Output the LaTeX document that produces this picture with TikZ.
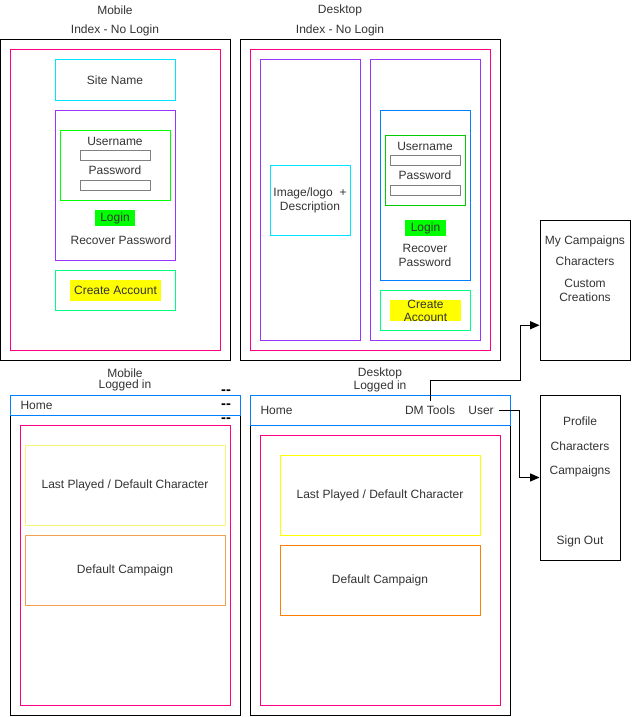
\documentclass[tikz,border=0pt]{standalone}
\usepackage{fontspec}
\setmainfont{Liberation Sans}
\usepackage{tikz}
\usetikzlibrary{fit, calc, arrows.meta}
\definecolor{txt}{HTML}{333333}
\definecolor{pinkline}{HTML}{FF0080}
\definecolor{cyanline}{HTML}{00E5FF}
\definecolor{purpleline}{HTML}{9933FF}
\definecolor{greenline}{HTML}{00FF00}
\definecolor{springline}{HTML}{00FF80}
\definecolor{blueline}{HTML}{007FFF}
\definecolor{yellowline}{HTML}{FFFF00}
\definecolor{paleyellow}{HTML}{F5F57A}
\definecolor{orangeline}{HTML}{FF8000}
\definecolor{paleorange}{HTML}{F0A050}
\definecolor{fieldgray}{HTML}{808080}

\begin{document}
\begin{tikzpicture}[x=0.75pt,y=-0.75pt,line width=0.75pt,
    font=\fontsize{9}{10.5}\selectfont,
    every node/.style={text=txt},
    every label/.style={text=txt, align=center},
    frame/.style={draw=#1, inner sep=0pt},
    field/.style={draw=fieldgray, inner sep=0pt},
    pad/.style={fill=#1, inner sep=0pt},
    marker/.style={text=black, font=\fontsize{11}{11}\bfseries, inner sep=0pt},
    twoline/.style={align=center, font=\fontsize{9}{8.25}\selectfont, inner sep=1pt},
    conn/.style={draw=black, -{Triangle[length=7pt,width=6pt]}}]
\useasboundingbox (0,0) rectangle (637,717);

\node (mlab) at (115,10) {Mobile};
\node (midx) at (115,30) {Index - No Login};
\node [frame=black, fit={(0,40) (230,360)}] (mpage) {};
\node [frame=pinkline, fit={(10,50) (220,350)}] (mbody) {};
\node [frame=cyanline, fit={(55,60) (175,100)}, label=center:Site Name] (mname) {};
\node [frame=purpleline, fit={(55,110) (175,260)}] (mlogin) {};
\node [frame=greenline, fit={(60,130) (170,200)}] (mform) {};
\node (muser) at (115,141) {Username};
\node [field, fit={(80,150) (150,160)}] (muserin) {};
\node (mpass) at (115,170) {Password};
\node [field, fit={(80,180) (150,190)}] (mpassin) {};
\node [pad=greenline, fit={(95,210) (135,226)}, label=center:Login] (mgo) {};
\node (mrec) at (121,240) {Recover Password};
\node [frame=springline, fit={(55,270) (175,310)}] (mnew) {};
\node [pad=yellowline, fit={(70,280) (161,301)}, label=center:Create Account] (mnewbtn) {};

\node (dlab) at (340,10) {Desktop};
\node (didx) at (340,30) {Index - No Login};
\node [frame=black, fit={(240,40) (500,360)}] (dpage) {};
\node [frame=pinkline, fit={(250,50) (490,350)}] (dbody) {};
\node [frame=purpleline, fit={(260,60) (360,340)}] (dleft) {};
\node [frame=purpleline, fit={(370,60) (480,340)}] (dright) {};
\node [frame=cyanline, fit={(270,165) (350,235)}, label={center:{Image/logo~ +\\Description}}] (dlogo) {};
\node [frame=blueline, fit={(380,110) (470,280)}] (dlogin) {};
\node [frame=greenline!80!black, fit={(385,135) (465,205)}] (dform) {};
\node (duser) at (425,146) {Username};
\node [field, fit={(390,155) (460,165)}] (duserin) {};
\node (dpass) at (425,175) {Password};
\node [field, fit={(390,185) (460,195)}] (dpassin) {};
\node [pad=greenline, fit={(405,220) (446,236)}, label=center:Login] (dgo) {};
\node [align=center] (drec) at (425,255) {Recover\\Password};
\node [frame=springline, fit={(380,290) (470,330)}] (dnew) {};
\node [pad=yellowline, fit={(390,300) (461,321)}, label={[font=\fontsize{9}{9.75}\selectfont]center:{Create\\Account}}] (dnewbtn) {};

\node [frame=black, fit={(540,220) (630,360)}] (tools) {};
\node (tcamp) at (585,241) {My Campaigns};
\node (tchar) at (585,261) {Characters};
\node [align=center] (tcust) at (585,290) {Custom\\Creations};

\node [frame=black, fit={(540,395) (620,560)}] (umenu) {};
\node (uprof) at (580,421) {Profile};
\node (uchar) at (580,446) {Characters};
\node (ucamp) at (580,471) {Campaigns};
\node (uout) at (580,541) {Sign Out};

\node [twoline] (llab) at (125,380) {Mobile\\Logged in};
\node [frame=black, fit={(10,395) (240,715)}] (lpage) {};
\node [frame=blueline, fit={(10,395) (240,415)}] (lbar) {};
\node [anchor=west, inner sep=0pt] (lhome) at (20,405) {Home};
\node [marker] (ldash1) at (226,392) {-{}-};
\node [marker] (ldash2) at (226,406) {-{}-};
\node [marker] (ldash3) at (226,420) {-{}-};
\node [frame=pinkline, fit={(20,425) (230,705)}] (lbody) {};
\node [frame=paleyellow, fit={(25,445) (225,525)}, label=center:Last Played / Default Character] (lchar) {};
\node [frame=paleorange, fit={(25,535) (225,605)}, label=center:Default Campaign] (lcamp) {};

\node [twoline] (wlab) at (380,380) {Desktop\\Logged in};
\node [frame=black, fit={(250,395) (510,715)}] (wpage) {};
\node [frame=blueline, fit={(250,395) (510,425)}] (wbar) {};
\node [anchor=west, inner sep=0pt] (whome) at (260,410) {Home};
\node (dmt) at (430,410) {DM Tools};
\node (usr) at (481,410) {User};
\node [frame=pinkline, fit={(260,435) (500,705)}] (wbody) {};
\node [frame=yellowline, fit={(280,455) (480,535)}, label=center:Last Played / Default Character] (wchar) {};
\node [frame=orangeline, fit={(280,545) (480,615)}, label=center:Default Campaign] (wcamp) {};

\coordinate (jt) at (520,380);
\draw [conn] (dmt.north) |- (jt) |- ($(tools.north west)!0.75!(tools.south west)$);
\draw [conn] (usr.east) -| ($(usr.east)!0.5!(umenu.west)$) |- (umenu.west);
\end{tikzpicture}
\end{document}
